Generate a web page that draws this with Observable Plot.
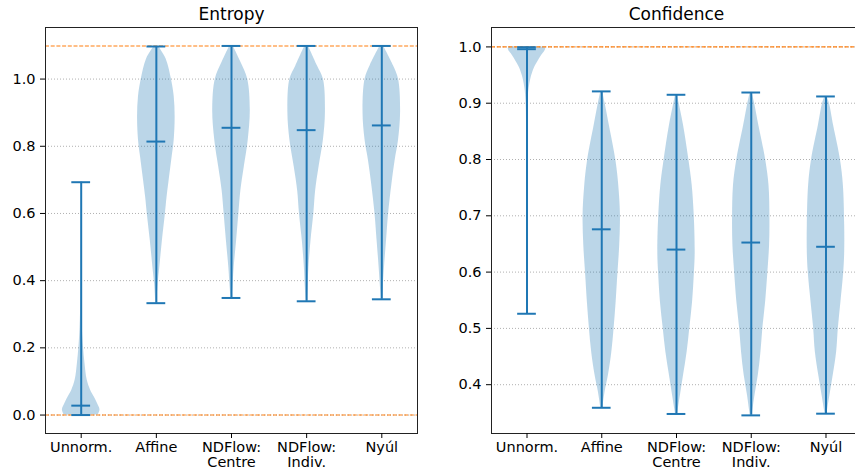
<!DOCTYPE html>
<html>
<head>
<meta charset="utf-8">
<script src="https://cdn.jsdelivr.net/npm/d3@7"></script>
<script src="https://cdn.jsdelivr.net/npm/@observablehq/plot@0.6"></script>
<style>
  html, body { margin: 0; padding: 0; background: #fff; overflow: hidden; }
  #wrap { position: relative; width: 855px; height: 475px; overflow: hidden; }
  #wrap svg { position: absolute; top: 0; }
</style>
</head>
<body>
<div id="wrap"></div>
<script>
// ---------- data ----------
const categories = ["Unnorm.", "Affine", "NDFlow:\nCentre", "NDFlow:\nIndiv.", "Nyúl"];
const positions = [1, 2, 3, 4, 5];

const entropyMin  = [0.0, 0.333, 0.3485, 0.3386, 0.3445];
const entropyMax  = [0.693, 1.097, 1.0986, 1.0986, 1.0986];
const entropyMean = [0.028, 0.814, 0.855, 0.848, 0.862];
const entropyRefs = [1.0986, 0.0];
const entropyTicks = [0.0, 0.2, 0.4, 0.6, 0.8, 1.0];

const confidenceMin  = [0.526, 0.359, 0.348, 0.3455, 0.3485];
const confidenceMax  = [0.9995, 0.921, 0.915, 0.919, 0.912];
const confidenceMean = [0.996, 0.676, 0.640, 0.6525, 0.645];
const confidenceRefs = [1.0];
const confidenceTicks = [0.4, 0.5, 0.6, 0.7, 0.8, 0.9, 1.0];

// violin profiles: [value, relative density]
const entUnnorm = [[0.0,0.9],[0.015,1],[0.035,0.86],[0.055,0.68],[0.074,0.5],[0.104,0.32],[0.154,0.2],[0.203,0.12],[0.26,0.06],[0.35,0.02],[0.5,0.01],[0.693,0.0]];
const entAffine = [[0.333,0.03],[0.388,0.09],[0.438,0.18],[0.518,0.32],[0.598,0.48],[0.648,0.57],[0.698,0.68],[0.768,0.84],[0.818,0.95],[0.888,1],[0.948,0.95],[1.0,0.8],[1.06,0.52],[1.097,0.12]];
const entCentre = [[0.3485,0.03],[0.378,0.07],[0.438,0.14],[0.518,0.27],[0.598,0.39],[0.668,0.5],[0.738,0.68],[0.818,0.89],[0.908,1],[1.0,0.86],[1.05,0.5],[1.0986,0.09]];
const entIndiv  = [[0.3386,0.03],[0.378,0.07],[0.438,0.12],[0.518,0.23],[0.598,0.38],[0.668,0.48],[0.738,0.66],[0.818,0.89],[0.903,1],[1.0,0.89],[1.04,0.57],[1.0986,0.09]];
const entNyul   = [[0.3445,0.03],[0.378,0.07],[0.438,0.14],[0.518,0.25],[0.598,0.36],[0.688,0.54],[0.758,0.71],[0.818,0.89],[0.903,1],[1.0,0.89],[1.04,0.62],[1.0986,0.09]];

const confUnnorm = [[0.526,0.005],[0.7,0.01],[0.85,0.02],[0.902,0.05],[0.926,0.11],[0.944,0.21],[0.962,0.39],[0.973,0.57],[0.985,0.79],[0.996,1],[1.0,0.96]];
const confAffine = [[0.359,0.05],[0.387,0.18],[0.417,0.36],[0.458,0.54],[0.5,0.66],[0.547,0.77],[0.6,0.87],[0.647,0.96],[0.7,1],[0.754,0.91],[0.8,0.75],[0.86,0.41],[0.9,0.18],[0.921,0.05]];
const confCentre = [[0.348,0.05],[0.381,0.21],[0.417,0.38],[0.458,0.57],[0.5,0.71],[0.547,0.86],[0.6,0.96],[0.635,1],[0.7,0.95],[0.754,0.84],[0.8,0.66],[0.86,0.38],[0.9,0.14],[0.915,0.05]];
const confIndiv  = [[0.3455,0.05],[0.381,0.2],[0.417,0.38],[0.458,0.52],[0.5,0.62],[0.547,0.77],[0.6,0.89],[0.647,0.98],[0.695,1],[0.754,0.95],[0.8,0.77],[0.86,0.41],[0.9,0.18],[0.919,0.05]];
const confNyul   = [[0.3485,0.05],[0.381,0.21],[0.417,0.39],[0.458,0.57],[0.5,0.66],[0.547,0.8],[0.6,0.95],[0.635,1],[0.683,1],[0.754,0.93],[0.8,0.77],[0.86,0.41],[0.9,0.18],[0.912,0.05]];

const entropyProfiles = [entUnnorm, entAffine, entCentre, entIndiv, entNyul];
const confidenceProfiles = [confUnnorm, confAffine, confCentre, confIndiv, confNyul];

// ---------- helpers ----------
const C0 = "#1f77b4", C1 = "#ff7f0e";
function violinRows(profiles) {
  return profiles.flatMap((p, i) => p.map(([v, d]) => ({pos: positions[i], v, d})));
}
function statRows(mins, maxs, means) {
  return positions.map((pos, i) => ({pos, min: mins[i], max: maxs[i], mean: means[i]}));
}

function panel({title, profiles, mins, maxs, means, refs, ticks, yDomain, width, marginLeft, marginRight, left}) {
  const rows = violinRows(profiles);
  const stats = statRows(mins, maxs, means);
  const cap = k => Plot.ruleY(stats, {y: k, x1: d => d.pos - 0.125, x2: d => d.pos + 0.125, stroke: C0, strokeWidth: 2});
  const svg = Plot.plot({
    width, height: 475,
    marginLeft, marginRight, marginTop: 27, marginBottom: 42,
    style: {fontFamily: "DejaVu Sans", fontSize: "14.5px", color: "#000", background: "transparent"},
    x: {type: "linear", domain: [0.525, 5.475]},
    y: {domain: yDomain},
    marks: [
      Plot.gridY(ticks, {stroke: "#b0b0b0", strokeOpacity: 1, strokeDasharray: "1,2"}),
      Plot.areaX(rows, {y: "v", x1: d => d.pos - 0.25 * d.d, x2: d => d.pos + 0.25 * d.d, z: "pos",
        fill: C0, fillOpacity: 0.3, curve: "catmull-rom"}),
      Plot.ruleY(refs, {stroke: C1, strokeWidth: 1.1, strokeDasharray: "4,1.7"}),
      Plot.ruleX(stats, {x: "pos", y1: "min", y2: "max", stroke: C0, strokeWidth: 2}),
      cap("min"), cap("max"), cap("mean"),
      Plot.frame({stroke: "#222", strokeWidth: 1}),
      Plot.axisY({ticks, tickFormat: ".1f", tickSize: 5, tickPadding: 5, label: null, fontSize: 14.5}),
      Plot.axisX({ticks: positions, tickFormat: p => categories[p - 1], tickSize: 5, tickPadding: 2,
        label: null, fontSize: 14.5, lineHeight: 1.08}),
      Plot.text([title], {text: d => d, frameAnchor: "top", dy: -8, lineAnchor: "bottom", fontSize: 17})
    ]
  });
  svg.style.left = left + "px";
  return svg;
}

const wrap = document.getElementById("wrap");
wrap.appendChild(panel({
  title: "Entropy", profiles: entropyProfiles, mins: entropyMin, maxs: entropyMax, means: entropyMean,
  refs: entropyRefs, ticks: entropyTicks, yDomain: [-0.0549, 1.1535],
  width: 430, marginLeft: 45, marginRight: 13, left: 0
}));
wrap.appendChild(panel({
  title: "Confidence", profiles: confidenceProfiles, mins: confidenceMin, maxs: confidenceMax, means: confidenceMean,
  refs: confidenceRefs, ticks: confidenceTicks, yDomain: [0.3133, 1.0345],
  width: 430, marginLeft: 51, marginRight: 9, left: 440
}));
</script>
</body>
</html>
